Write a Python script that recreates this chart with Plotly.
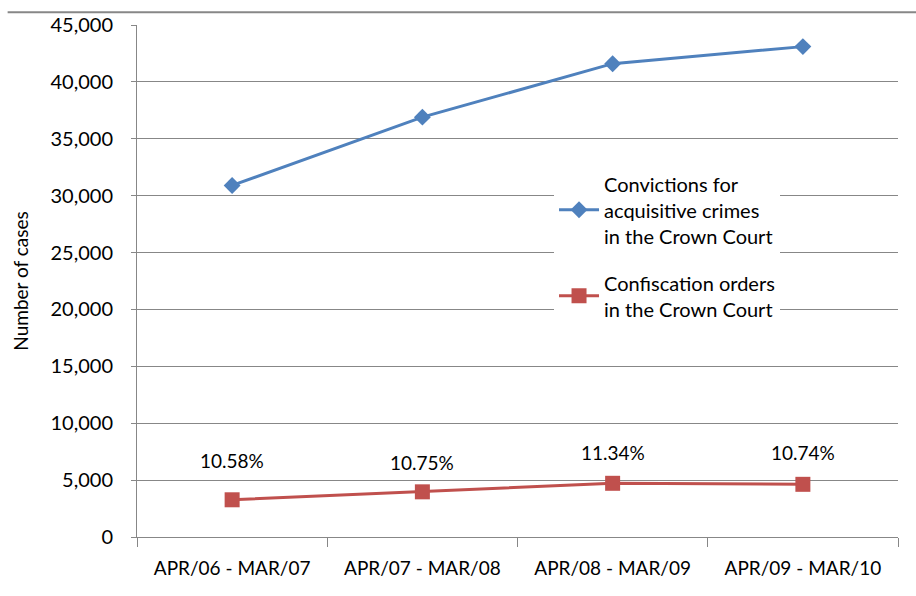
import plotly.graph_objects as go

periods = ["APR/06 - MAR/07", "APR/07 - MAR/08", "APR/08 - MAR/09", "APR/09 - MAR/10"]
convictions = [30900, 36900, 41600, 43100]
confiscations = [3270, 3970, 4720, 4630]
ratio_labels = ["10.58%", "10.75%", "11.34%", "10.74%"]
ratio_label_y = [6750, 6560, 7450, 7450]

FONT = "Lato"
BLUE = "#4F81BD"
RED = "#C0504D"
GRID = "#878787"

fig = go.Figure()
fig.add_trace(go.Scatter(
    x=periods, y=convictions, mode="lines+markers",
    name="Convictions for<br>acquisitive crimes<br>in the Crown Court",
    legendgroup="conv",
    line=dict(color=BLUE, width=3),
    marker=dict(symbol="diamond", size=13, color=BLUE),
))
fig.add_trace(go.Scatter(
    x=periods, y=confiscations, mode="lines+markers",
    name="Confiscation orders<br>in the Crown Court",
    legendgroup="conf",
    line=dict(color=RED, width=3),
    marker=dict(symbol="square", size=15, color=RED),
))

for p, ly, t in zip(periods, ratio_label_y, ratio_labels):
    fig.add_annotation(x=p, y=ly, text=t, showarrow=False,
                       font=dict(family=FONT, size=19, color="#000"))

fig.update_layout(
    width=916, height=596,
    margin=dict(l=137, r=18, t=22, b=59),
    paper_bgcolor="white", plot_bgcolor="white",
    font=dict(family=FONT, size=20, color="#000"),
    showlegend=True,
    legend=dict(x=0.548, y=0.728, xanchor="left", yanchor="top",
                bgcolor="white", font=dict(family=FONT, size=20),
                tracegroupgap=18, itemwidth=40),
    xaxis=dict(type="category", tickson="boundaries", ticks="outside",
               ticklen=9, tickcolor=GRID, showline=True, linecolor=GRID,
               linewidth=1, showgrid=False, range=[-0.5, 3.5],
               ticklabelstandoff=14,
               tickfont=dict(family=FONT, size=19)),
    yaxis=dict(range=[0, 45000], dtick=5000, tickformat=",", ticks="outside",
               ticklen=5, tickcolor=GRID, showline=True, linecolor=GRID,
               gridcolor=GRID, gridwidth=1, zeroline=False,
               ticklabelstandoff=14,
               title=dict(text="Number of cases", font=dict(family=FONT, size=19), standoff=16),
               tickfont=dict(family=FONT, size=20)),
)

# top border line across the chart
fig.add_shape(type="line", xref="paper", yref="paper", x0=-0.17, x1=1.03,
              y0=1.025, y1=1.025, line=dict(color=GRID, width=2))

fig.write_html("out.html")
